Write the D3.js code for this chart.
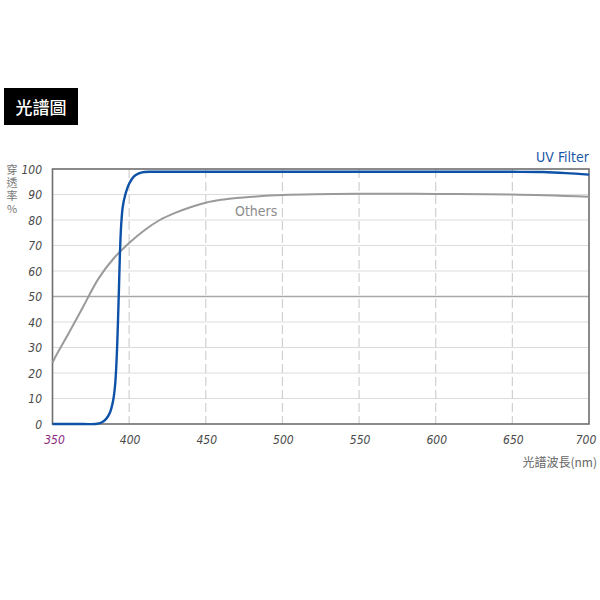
<!DOCTYPE html>
<html>
<head>
<meta charset="utf-8">
<script src="https://cdn.jsdelivr.net/npm/d3@7"></script>
<style>
  html, body { margin: 0; padding: 0; background: #fff; }
  svg { display: block; }
</style>
</head>
<body>
<div id="chart"></div>
<script>
// Wavelength ticks (nm) and transmittance ticks (%)
const xTicks = [350, 400, 450, 500, 550, 600, 650, 700];
const yTicks = [0, 10, 20, 30, 40, 50, 60, 70, 80, 90, 100];

// UV Filter curve
const uvWavelength = [350, 370, 378, 382, 385, 387.5, 389.5, 390.8, 391.8, 392.6, 393.3, 394, 394.8, 395.8, 397.3, 400, 403, 406, 410, 415, 430, 500, 550, 600, 650, 670, 685, 700];
const uvValue      = [0,   0,   0,   0.6, 2,   4.5,   9,     15,    25,    38,    52,    67,   78,    85,    89.5,  94.2, 97, 98.2, 98.8, 98.9, 98.9, 98.9, 98.9, 98.9, 98.9, 98.8, 98.4, 97.8];

// Others curve
const otherWavelength = [350, 352, 360, 370, 380, 390, 400, 410, 420, 430, 440, 450, 460, 470, 480, 500, 550, 600, 650, 700];
const otherValue      = [24,  26.5, 35, 46,  57,  65,  71,  76,  80,  82.8, 85, 86.8, 87.9, 88.6, 89.1, 89.8, 90.3, 90.2, 90, 89.1];

// Axis titles
const yTitle = "穿透率%";
const xTitle = "光譜波長(nm)";

const width = 600, height = 600;
const margin = { left: 52.5, right: 11, top: 169, bottom: 176 };

const svg = d3.select("#chart").append("svg")
    .attr("width", width)
    .attr("height", height);

const x = d3.scaleLinear().domain([350, 700]).range([margin.left, width - margin.right]);
const y = d3.scaleLinear().domain([0, 100]).range([height - margin.bottom, margin.top]);

// Title box
svg.append("rect")
    .attr("x", 4).attr("y", 88)
    .attr("width", 74).attr("height", 37)
    .attr("fill", "#000");
svg.append("text")
    .attr("x", 41).attr("y", 113.5)
    .attr("text-anchor", "middle")
    .attr("font-family", "'Noto Sans CJK TC', sans-serif")
    .attr("font-size", 17)
    .attr("font-weight", 500)
    .attr("fill", "#fff")
    .text("光譜圖");

// Horizontal gridlines
svg.append("g")
    .selectAll("line")
    .data(yTicks.filter(d => d > 0 && d < 100))
    .join("line")
    .attr("x1", x(350)).attr("x2", x(700))
    .attr("y1", d => y(d)).attr("y2", d => y(d))
    .attr("stroke", d => d === 50 ? "#a8a8a8" : "#dcdcdc")
    .attr("stroke-width", d => d === 50 ? 1.3 : 1);

// Vertical dashed gridlines
svg.append("g")
    .selectAll("line")
    .data(xTicks.filter(d => d > 350 && d < 700))
    .join("line")
    .attr("x1", d => x(d)).attr("x2", d => x(d))
    .attr("y1", y(100)).attr("y2", y(0))
    .attr("stroke", "#d0d0d0")
    .attr("stroke-width", 1.2)
    .attr("stroke-dasharray", "9,4");

// Plot frame
svg.append("rect")
    .attr("x", x(350)).attr("y", y(100))
    .attr("width", x(700) - x(350)).attr("height", y(0) - y(100))
    .attr("fill", "none")
    .attr("stroke", "#6e6e6e")
    .attr("stroke-width", 1.6);

const line = d3.line()
    .x(d => x(d[0]))
    .y(d => y(d[1]))
    .curve(d3.curveCatmullRom.alpha(0.5));

// Others line
svg.append("path")
    .datum(d3.zip(otherWavelength, otherValue))
    .attr("d", line)
    .attr("fill", "none")
    .attr("stroke", "#9a9a9a")
    .attr("stroke-width", 2);

// UV Filter line
svg.append("path")
    .datum(d3.zip(uvWavelength, uvValue))
    .attr("d", line)
    .attr("fill", "none")
    .attr("stroke", "#0e52a8")
    .attr("stroke-width", 2.4);

const tickFont = "'DejaVu Sans Condensed', 'DejaVu Sans', sans-serif";

// Y tick labels
svg.append("g")
    .selectAll("text")
    .data(yTicks)
    .join("text")
    .attr("x", 42)
    .attr("y", d => y(d) + 4.5)
    .attr("text-anchor", "end")
    .attr("font-family", tickFont)
    .style("font-stretch", "condensed")
    .attr("font-style", "italic")
    .attr("font-size", 12)
    .attr("fill", "#4a4a4a")
    .text(d => d);

// X tick labels
svg.append("g")
    .selectAll("text")
    .data(xTicks)
    .join("text")
    .attr("x", d => x(d) + (d === 350 ? 2 : d === 700 ? -3 : 1))
    .attr("y", 444)
    .attr("text-anchor", "middle")
    .attr("font-family", tickFont)
    .style("font-stretch", "condensed")
    .attr("font-style", "italic")
    .attr("font-size", 12)
    .attr("fill", d => d === 350 ? "#8a2b82" : "#4a4a4a")
    .text(d => d);

// Y axis title, written vertically
svg.append("text")
    .attr("x", 12)
    .attr("y", 164)
    .attr("font-family", "'Noto Sans CJK TC', sans-serif")
    .attr("font-size", 11)
    .attr("fill", "#777")
    .style("writing-mode", "vertical-rl")
    .style("text-orientation", "upright")
    .style("letter-spacing", "2px")
    .text(yTitle);

// X axis title
svg.append("text")
    .attr("x", 597).attr("y", 467)
    .attr("text-anchor", "end")
    .attr("font-family", "'Noto Sans CJK TC', sans-serif")
    .attr("font-size", 12)
    .attr("fill", "#666")
    .text(xTitle);

// Series labels
svg.append("text")
    .attr("x", 589).attr("y", 162)
    .attr("text-anchor", "end")
    .attr("font-family", tickFont)
    .style("font-stretch", "condensed")
    .attr("font-size", 14)
    .attr("fill", "#1a56a6")
    .text("UV Filter");

svg.append("text")
    .attr("x", 235).attr("y", 215.5)
    .attr("font-family", tickFont)
    .style("font-stretch", "condensed")
    .attr("font-size", 14)
    .attr("fill", "#8c8c8c")
    .text("Others");
</script>
</body>
</html>
